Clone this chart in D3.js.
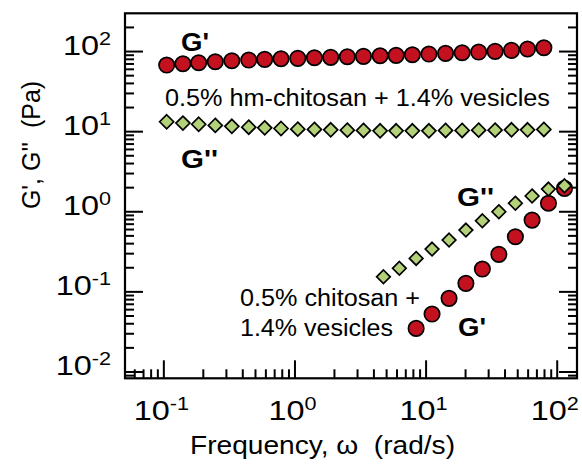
<!DOCTYPE html>
<html><head><meta charset="utf-8">
<script src="https://cdn.jsdelivr.net/npm/d3@7"></script>
<style>
body{margin:0;background:#fff;}
text{font-family:"Liberation Sans",Arial,Helvetica,sans-serif;fill:#000;}
</style></head>
<body><svg id="c" width="582" height="464"></svg>
<script>
// ---- data ----
const hmFreq = [0.106,0.141,0.186,0.249,0.333,0.448,0.593,0.790,1.06,1.42,1.89,2.53,3.36,4.50,5.96,7.93,10.6,14.2,19.0,25.4,33.9,45.2,59.9,79.8];
const hmGp   = [66.9,69.4,71.4,73.5,75.7,77.2,78.8,80.1,81.1,82.5,83.4,84.9,85.9,87.4,88.4,89.9,91.7,93.6,95.3,97.2,99.1,102,106,110];
const hmGpp  = [13.1,12.6,12.2,11.8,11.5,11.2,11.0,10.8,10.6,10.5,10.4,10.3,10.2,10.1,10.1,10.1,10.1,10.2,10.2,10.3,10.3,10.4,10.4,10.5];
const chFreqGpp = [4.77,6.31,8.47,11.2,15.1,20.3,27.1,36.2,48.4,64.9,86.5,114.6];
const chGpp     = [0.152,0.194,0.258,0.337,0.437,0.582,0.760,0.986,1.26,1.55,1.89,2.08];
const chFreqGp  = [8.47,11.2,15.1,20.3,27.1,36.2,48.4,64.9,86.5,114.6];
const chGp      = [0.0345,0.0521,0.0818,0.126,0.190,0.290,0.481,0.776,1.26,1.93];
const xMajor = [0.1, 1, 10, 100];
const xMajorExp = ["-1","0","1","2"];
const yMajor = [0.01, 0.1, 1, 10, 100];
const yMajorExp = ["-2","-1","0","1","2"];
const xDomain = [0.0510, 142.8];
const yDomain = [0.00822, 296];

// ---- layout ----
const L = 125, R = 577, T = 13.3, B = 378.3;
const svg = d3.select("#c");
const x = d3.scaleLog().domain(xDomain).range([L, R]);
const y = d3.scaleLog().domain(yDomain).range([B, T]);

function minors(dom){
  const out=[];
  for(let e=-4;e<=4;e++){for(let m=2;m<=9;m++){const v=m*Math.pow(10,e); if(v>dom[0]&&v<dom[1]) out.push(v);}}
  return out;
}
const xMinor = minors(xDomain), yMinor = minors(yDomain);

function styleAxis(g){
  g.select(".domain").remove();
  g.selectAll(".tick line").attr("stroke","#000").attr("stroke-width",2);
  g.selectAll(".tick text").remove();
}
svg.append("g").attr("transform",`translate(0,${B})`).call(d3.axisBottom(x).tickValues(xMajor).tickSize(-18)).call(styleAxis);
svg.append("g").attr("transform",`translate(0,${B})`).call(d3.axisBottom(x).tickValues(xMinor).tickSize(-9)).call(styleAxis);
svg.append("g").attr("transform",`translate(${L},0)`).call(d3.axisLeft(y).tickValues(yMajor).tickSize(-18)).call(styleAxis);
svg.append("g").attr("transform",`translate(${L},0)`).call(d3.axisLeft(y).tickValues(yMinor).tickSize(-9)).call(styleAxis);
svg.append("g").attr("transform",`translate(${R},0)`).call(d3.axisRight(y).tickValues(yMajor).tickSize(-18)).call(styleAxis);
svg.append("g").attr("transform",`translate(${R},0)`).call(d3.axisRight(y).tickValues(yMinor).tickSize(-9)).call(styleAxis);

svg.append("rect").attr("x",L).attr("y",T).attr("width",R-L).attr("height",B-T)
  .attr("fill","none").attr("stroke","#000").attr("stroke-width",2.2);

// tick labels (slightly widened glyphs as in the source figure)
const sx = 1.2;
xMajor.forEach((v,i)=>{
  const t = svg.append("text").attr("transform",`translate(${x(v)-2},420) scale(${sx},1)`)
    .attr("text-anchor","middle").attr("font-size",27);
  t.append("tspan").text("10");
  t.append("tspan").attr("dy",-10).attr("font-size",18).text(xMajorExp[i]);
});
yMajor.forEach((v,i)=>{
  const t = svg.append("text").attr("transform",`translate(111,${y(v)+4}) scale(${sx},1)`)
    .attr("text-anchor","end").attr("font-size",27);
  t.append("tspan").text("10");
  t.append("tspan").attr("dy",-10).attr("font-size",18).text(yMajorExp[i]);
});

// axis titles
svg.append("text").attr("x",190).attr("y",454).attr("font-size",26)
  .attr("textLength",265).attr("lengthAdjust","spacingAndGlyphs")
  .attr("xml:space","preserve").text("Frequency, \u03C9  (rad/s)");
svg.append("text").attr("transform","translate(40,145) rotate(-90)").attr("text-anchor","middle").attr("font-size",25)
  .attr("xml:space","preserve").text("G', G''  (Pa)");

// markers
const red = "#c4111f", green = "#b2d178";
function circles(xs, ys){
  svg.append("g").selectAll("circle").data(xs.map((d,i)=>[d,ys[i]])).join("circle")
    .attr("cx",d=>x(d[0])).attr("cy",d=>y(d[1])).attr("r",7.7)
    .attr("fill",red).attr("stroke","#000").attr("stroke-width",1.7);
}
function diamonds(xs, ys, s){
  svg.append("g").selectAll("path").data(xs.map((d,i)=>[d,ys[i]])).join("path")
    .attr("d",d=>{const cx=x(d[0]),cy=y(d[1]);return `M${cx},${cy-s}L${cx+s},${cy}L${cx},${cy+s}L${cx-s},${cy}Z`;})
    .attr("fill",green).attr("stroke","#000").attr("stroke-width",1.7);
}
circles(hmFreq, hmGp);
diamonds(hmFreq, hmGpp, 7);
circles(chFreqGp, chGp);
diamonds(chFreqGpp, chGpp, 6.8);

// annotations
function ann(txt,xp,yp,bold,fs,len){
  const t = svg.append("text").attr("x",xp).attr("y",yp).attr("font-size",fs)
    .attr("font-weight",bold?"bold":"normal").text(txt);
  if(len) t.attr("textLength",len).attr("lengthAdjust","spacingAndGlyphs");
}
ann("G'",181,51,true,25,28);
ann("0.5% hm-chitosan + 1.4% vesicles",165,106,false,23.5,385);
ann("G''",181,168,true,25,37);
ann("G''",457,206,true,25,37);
ann("0.5% chitosan +",240,306,false,23.5,180);
ann("1.4% vesicles",240,336,false,23.5,153);
ann("G'",458,336,true,25,28);
</script></body></html>
